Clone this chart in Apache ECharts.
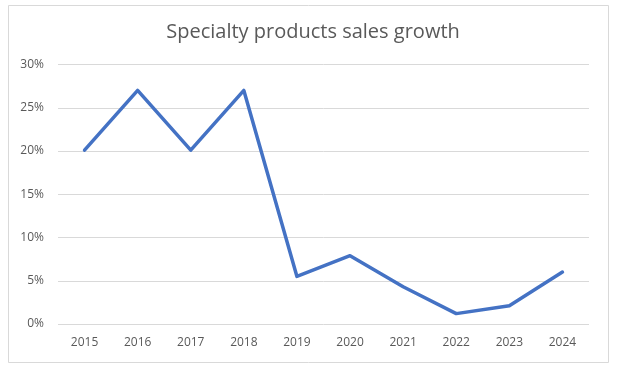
<!DOCTYPE html>
<html>
<head>
<meta charset="utf-8">
<script src="https://cdn.jsdelivr.net/npm/echarts@6/dist/echarts.min.js"></script>
<style>html,body{margin:0;padding:0;background:#fff}#c{width:635px;height:368px}</style>
</head>
<body>
<div id="c"></div>
<script>
var years = ['2015','2016','2017','2018','2019','2020','2021','2022','2023','2024'];
var growth = [20.1, 27.0, 20.1, 27.0, 5.5, 7.9, 4.3, 1.2, 2.1, 6.0];
var yTicks = [0, 5, 10, 15, 20, 25, 30];

var chart = echarts.init(document.getElementById('c'), null, {renderer: 'canvas'});
chart.setOption({
  animation: false,
  backgroundColor: '#fff',
  title: {
    text: 'Specialty products sales growth',
    left: 308, top: 17, textAlign: 'center',
    textStyle: {fontFamily: 'Open Sans', fontWeight: 'normal', fontSize: 20, color: '#595959'}
  },
  graphic: [{
    type: 'rect', shape: {x: 8.5, y: 5.5, width: 600, height: 357},
    style: {fill: 'none', stroke: '#d9d9d9', lineWidth: 1}, z: -1
  }],
  grid: {left: 58, right: 46, top: 64.5, bottom: 44},
  xAxis: {
    type: 'category', data: years, boundaryGap: true,
    axisLine: {show: false}, axisTick: {show: false},
    axisLabel: {color: '#595959', fontSize: 12, fontFamily: 'Open Sans', margin: 13}
  },
  yAxis: {
    type: 'value', min: yTicks[0], max: yTicks[yTicks.length - 1], interval: 5,
    axisLine: {show: false}, axisTick: {show: false},
    splitLine: {lineStyle: {color: '#d9d9d9', width: 1}},
    axisLabel: {color: '#595959', fontSize: 12, fontFamily: 'Open Sans', margin: 14,
      formatter: function (v) { return v + '%'; }}
  },
  series: [{
    type: 'line', data: growth, symbol: 'none',
    lineStyle: {color: '#4472C4', width: 3.5, cap: 'round', join: 'round'}
  }]
});
</script>
</body>
</html>
